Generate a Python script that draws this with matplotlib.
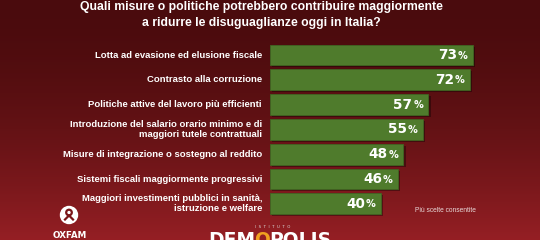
import matplotlib
matplotlib.use("Agg")
import matplotlib.pyplot as plt
import numpy as np
from matplotlib.patches import Circle

categories = [
    "Lotta ad evasione ed elusione fiscale",
    "Contrasto alla corruzione",
    "Politiche attive del lavoro più efficienti",
    "Introduzione del salario orario minimo e di\nmaggiori tutele contrattuali",
    "Misure di integrazione o sostegno al reddito",
    "Sistemi fiscali maggiormente progressivi",
    "Maggiori investimenti pubblici in sanità,\nistruzione e welfare",
]
values = [73, 72, 57, 55, 48, 46, 40]
title = "Quali misure o politiche potrebbero contribuire maggiormente\na ridurre le disuguaglianze oggi in Italia?"
note = "Più scelte consentite"

W, H = 540, 240
fig = plt.figure(figsize=(W / 100, H / 100), dpi=100)

# background gradient
bg = fig.add_axes([0, 0, 1, 1])
bg.set_axis_off()
grad = np.linspace(0, 1, 256).reshape(-1, 1)
top = np.array([0x4a, 0x0b, 0x0d]) / 255
bot = np.array([0x95, 0x1f, 0x24]) / 255
g = grad ** 1.7
img = top[None, None, :] * (1 - g[..., None]) + bot[None, None, :] * g[..., None]
bg.imshow(img, aspect="auto", extent=[0, W, H, 0])
bg.set_xlim(0, W)
bg.set_ylim(H, 0)

# main axes: pixel mapping
ax = fig.add_axes([0, 0, 1, 1])
ax.set_axis_off()
ax.patch.set_alpha(0)
px_per = 2.78
x0 = 270
ax.set_xlim(-x0 / px_per, (W - x0) / px_per)
y0, dy = 55, 24.8
ax.set_ylim((H - y0) / dy, -y0 / dy)

ypos = np.arange(len(values))
bar_h = 0.84
# shadow
ax.barh(ypos + 0.08, values, left=0.8, height=bar_h, color="black", alpha=0.35, zorder=1)
ax.barh(ypos, values, height=bar_h, color="#4f7b2c", edgecolor="#3f6522", linewidth=0.6, zorder=2)

lab_font = ["Liberation Sans", "DejaVu Sans"]
for y, cat, v in zip(ypos, categories, values):
    ax.text(-8 / px_per, y, cat, ha="right", va="center", color="white",
            fontsize=6.8, fontweight="bold", family=lab_font, linespacing=1.15, zorder=3)
    ax.annotate("%", (v, y), xytext=(-4, -0.5), textcoords="offset points",
                ha="right", va="center", color="white", fontsize=7, fontweight="bold",
                family="DejaVu Sans", zorder=3)
    ax.annotate(str(v), (v, y), xytext=(-11.5, 0), textcoords="offset points",
                ha="right", va="center", color="white", fontsize=9.8, fontweight="bold",
                family="DejaVu Sans", zorder=3)

# title
bg.text(261, 15, title, ha="center", va="center", color="white", fontsize=8.8,
        fontweight="bold", family=lab_font, linespacing=1.5)

# note
bg.text(415, 211, note, ha="left", va="center", color="#e8d8d8", fontsize=4.8,
        family=lab_font)

# Oxfam logo
bg.add_patch(Circle((69, 215), 8.5, color="white", zorder=4))
bg.add_patch(Circle((69, 212.5), 2.8, fill=False, ec="#7a1518", lw=1.6, zorder=5))
bg.plot([65, 69, 73], [219.5, 215.5, 219.5], color="#7a1518", lw=1.6, zorder=5)
bg.text(70, 235.5, "OXFAM", ha="center", va="center", color="white", fontsize=6.3,
        fontweight="bold", family="DejaVu Sans", zorder=5)

# Demopolis logo
bg.text(273, 227, "I  S  T  I  T  U  T  O", ha="center", va="center", color="#dddddd",
        fontsize=2.8, family="DejaVu Sans")
renderer = fig.canvas.get_renderer()
xx = 208
for s, col in [("DEM", "white"), ("O", "#f0a020"), ("POLIS", "white")]:
    t = bg.text(xx, 231, s, ha="left", va="top", color=col, fontsize=13.5, fontweight="bold",
                family="DejaVu Sans")
    bb = t.get_window_extent(renderer=renderer)
    xx += bb.width * 0.98

fig.savefig("out.png", dpi=100)
